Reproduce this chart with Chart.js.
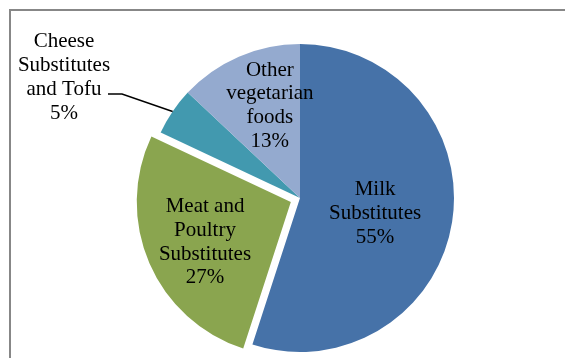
<!DOCTYPE html>
<html>
<head>
<meta charset="utf-8">
<script src="https://cdn.jsdelivr.net/npm/chart.js@4"></script>
<style>
  html, body { margin: 0; padding: 0; background: #fff; }
  #wrap { position: relative; width: 565px; height: 358px; overflow: hidden; }
  #frame {
    position: absolute; left: 9px; top: 9px; width: 600px; height: 400px;
    border: 2px solid #878787; box-sizing: border-box;
  }
  canvas { position: absolute; left: 0; top: 0; }
</style>
</head>
<body>
<div id="wrap">
  <div id="frame"></div>
  <canvas id="pie" width="565" height="358"></canvas>
</div>
<script>
const categories = [
  ["Milk", "Substitutes"],
  ["Meat and", "Poultry", "Substitutes"],
  ["Cheese", "Substitutes", "and Tofu"],
  ["Other", "vegetarian", "foods"],
];
const shares = [55, 27, 5, 13];
const colors = ["#4672A8", "#8AA54F", "#4299AF", "#94AACF"];
const explode = [0, 10, 0, 0]; // px the slice is pulled out

// label placement: fraction of radius along the slice middle, plus a small nudge
const labelRadius = [0.5, 0.6, null, 0.64];
const labelNudge = [[-1, 2], [-1, 2], [0, 0], [9, -3.5]];

const FONT = '21px "Liberation Serif", "Times New Roman", serif';
const LINE_H = 23.7;

function drawLines(ctx, lines, x, y) {
  const top = y - (lines.length - 1) * LINE_H / 2 + 1.5;
  lines.forEach((t, i) => ctx.fillText(t, x, top + i * LINE_H));
}

const labelPlugin = {
  id: "sliceLabels",
  afterDatasetsDraw(chart) {
    const ctx = chart.ctx;
    const meta = chart.getDatasetMeta(0);
    ctx.save();
    ctx.font = FONT;
    ctx.fillStyle = "#000";
    ctx.textAlign = "center";
    ctx.textBaseline = "middle";
    meta.data.forEach((arc, i) => {
      const p = arc.getProps(["x", "y", "startAngle", "endAngle", "outerRadius"], true);
      const mid = (p.startAngle + p.endAngle) / 2;
      const cx = p.x + Math.cos(mid) * explode[i];
      const cy = p.y + Math.sin(mid) * explode[i];
      const lines = categories[i].concat([shares[i] + "%"]);
      if (labelRadius[i] !== null) {
        const r = p.outerRadius * labelRadius[i];
        drawLines(ctx, lines,
          cx + Math.cos(mid) * r + labelNudge[i][0],
          cy + Math.sin(mid) * r + labelNudge[i][1]);
      } else {
        // outside label, upper left, with leader line back to the slice edge
        const ex = cx + Math.cos(mid) * p.outerRadius;
        const ey = cy + Math.sin(mid) * p.outerRadius;
        const lx = 64, ly = 76;
        ctx.strokeStyle = "#000";
        ctx.lineWidth = 1.5;
        ctx.beginPath();
        ctx.moveTo(lx + 44, ly + 18);
        ctx.lineTo(lx + 58, ly + 18);
        ctx.lineTo(ex, ey);
        ctx.stroke();
        drawLines(ctx, lines, lx, ly);
      }
    });
    ctx.restore();
  },
};

new Chart(document.getElementById("pie"), {
  type: "pie",
  data: {
    labels: categories.map((c) => c.join(" ")),
    datasets: [
      {
        data: shares,
        backgroundColor: colors,
        borderWidth: 0,
        // Chart.js moves an arc by offset/4
        offset: explode.map((e) => e * 4),
      },
    ],
  },
  options: {
    responsive: false,
    animation: false,
    radius: 154,
    layout: { padding: { left: 35, right: 0, top: 38, bottom: 0 } },
    plugins: {
      legend: { display: false },
      tooltip: { enabled: false },
    },
  },
  plugins: [labelPlugin],
});
</script>
</body>
</html>
